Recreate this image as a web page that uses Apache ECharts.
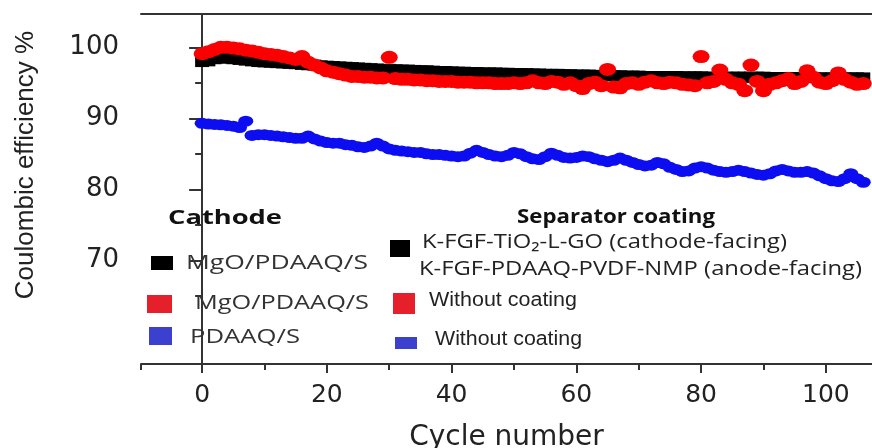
<!DOCTYPE html>
<html><head><meta charset="utf-8">
<script src="https://cdn.jsdelivr.net/npm/echarts@6/dist/echarts.min.js"></script>
<style>html,body{margin:0;padding:0;background:#fff}#c{width:872px;height:448px}</style>
</head><body><div id="c"></div>
<script>
// ---------------- data ----------------
const blackValues = [
 98.0,98.1,98.4,98.5,98.5,98.4,98.3,98.2,98.1,98.0,
 97.95,97.9,97.85,97.8,97.75,97.7,97.6,97.55,97.5,97.4,
 97.35,97.3,97.25,97.2,97.15,97.1,97.05,97.0,96.95,96.9,
 96.9,96.85,96.8,96.8,96.75,96.7,96.7,96.65,96.6,96.6,
 96.55,96.5,96.5,96.45,96.45,96.4,96.4,96.4,96.35,96.35,
 96.3,96.3,96.3,96.25,96.25,96.2,96.2,96.2,96.15,96.15,
 96.1,96.1,96.1,96.05,96.05,96.0,96.0,96.0,95.95,95.95,
 95.95,95.9,95.9,95.9,95.9,95.9,95.9,95.85,95.85,95.85,
 95.85,95.8,95.8,95.8,95.8,95.8,95.8,95.8,95.8,95.8,
 95.8,95.75,95.75,95.75,95.75,95.75,95.75,95.75,95.75,95.7,
 95.7,95.7,95.7,95.7,95.7,95.7,95.7];
const redValues = [
 99.1,99.4,99.7,100.0,100.0,99.9,99.8,99.6,99.5,99.3,
 99.1,99.0,98.9,98.7,98.5,98.3,98.7,97.9,97.5,97.1,
 96.7,96.5,96.3,96.1,95.9,95.9,95.8,95.8,95.7,95.7,
 98.6,95.6,95.5,95.5,95.4,95.4,95.3,95.3,95.2,95.2,
 95.2,95.1,95.1,95.1,95.0,95.0,95.0,94.9,94.9,94.9,
 95.0,94.9,95.0,95.3,95.0,94.9,95.2,95.1,94.8,95.0,
 94.6,94.2,94.9,95.1,94.6,96.9,94.4,94.3,94.9,95.0,
 94.8,95.1,95.3,95.0,94.9,95.1,95.0,94.8,94.7,94.6,
 98.7,95.0,95.2,96.8,95.5,95.0,94.8,93.9,97.5,95.2,
 93.9,94.8,95.0,95.3,95.6,94.9,95.2,96.7,95.8,95.1,
 94.9,95.3,96.4,95.5,95.1,94.8,94.9];
const blueValues = [
 89.3,89.2,89.15,89.1,89.0,88.9,88.7,89.6,87.6,87.7,
 87.7,87.6,87.5,87.4,87.3,87.2,87.2,87.5,87.1,86.8,
 86.6,86.5,86.5,86.3,86.2,86.0,85.9,86.1,86.5,86.1,
 85.7,85.5,85.4,85.3,85.2,85.2,85.0,84.9,84.9,84.8,
 84.7,84.6,84.7,85.1,85.5,85.2,84.9,84.7,84.6,84.8,
 85.2,85.0,84.6,84.3,84.2,84.6,85.1,84.8,84.5,84.4,
 84.5,84.7,84.6,84.3,84.1,83.9,84.1,84.4,84.1,83.8,
 83.5,83.3,83.4,83.8,83.6,83.1,82.8,82.5,82.6,83.0,
 83.2,83.0,82.7,82.5,82.4,82.5,82.7,82.5,82.3,82.1,
 82.0,82.2,82.6,82.8,82.6,82.4,82.4,82.5,82.3,81.9,
 81.5,81.2,81.1,81.5,82.2,81.5,81.0];
const xMajorTicks = [0, 20, 40, 60, 80, 100];
const xMinorTicks = [10, 30, 50, 70, 90];
const yMajorTicks = [70, 80, 90, 100];
const yMinorTicks = [65, 75, 85, 95];
const cathodeTitle = 'Cathode';
const cathodeLabels = ['MgO/PDAAQ/S', 'MgO/PDAAQ/S', 'PDAAQ/S'];
const separatorTitle = 'Separator coating';
const separatorLabels = ['K-FGF-TiO\u2082-L-GO (cathode-facing)', 'K-FGF-PDAAQ-PVDF-NMP (anode-facing)', 'Without coating', 'Without coating'];
const seriesNames = ['MgO/PDAAQ/S + K-FGF coatings', 'MgO/PDAAQ/S without coating', 'PDAAQ/S without coating'];
const xName = 'Cycle number';
const yName = 'Coulombic efficiency %';

// ---------------- layout / style ----------------
const X_MIN = -9.8, X_MAX = 107.4, Y_MIN = 55.4, Y_MAX = 104.7;
const AXIS_COLOR = '#333';
const colors = ['#000000', '#fa0000', '#0d0df2'];
const legendColors = ['#000000', '#e5202a', '#3b40cf'];
const calibri = '"Open Sans", "Noto Sans", "DejaVu Sans", sans-serif';
const arial = '"Liberation Sans", Arial, sans-serif';

const mctx = document.createElement('canvas').getContext('2d');
function fitText(text, left, cy, width, size, family, weight, color) {
  const font = weight + ' ' + size + 'px ' + family;
  mctx.font = font;
  const w = mctx.measureText(text).width || 1;
  return { type: 'text', x: left, y: cy, scaleX: width / w, silent: true, z: 100,
    style: { text: text, font: font, fill: color, textAlign: 'left', textVerticalAlign: 'middle', align: 'left', verticalAlign: 'middle' } };
}
function box(x, y, w, h, color) {
  return { type: 'rect', silent: true, z: 100, shape: { x: x, y: y, width: w, height: h }, style: { fill: color } };
}

const graphics = [
  fitText(cathodeTitle, 168, 219, 114, 19, calibri, 'bold', '#111'),
  box(151, 256, 22, 14, legendColors[0]),
  fitText(cathodeLabels[0], 186, 263, 182, 20, calibri, 'normal', '#333'),
  box(147, 295, 25, 18, legendColors[1]),
  fitText(cathodeLabels[1], 195, 303, 174, 20, calibri, 'normal', '#333'),
  box(149, 327, 23, 18, legendColors[2]),
  fitText(cathodeLabels[2], 190, 337, 110, 20, calibri, 'normal', '#333'),
  fitText(separatorTitle, 517, 218, 198, 19, calibri, 'bold', '#111'),
  box(390, 240, 20, 17, legendColors[0]),
  fitText(separatorLabels[0], 422, 242, 365, 20, calibri, 'normal', '#222'),
  fitText(separatorLabels[1], 419, 269, 443, 20, calibri, 'normal', '#222'),
  box(393, 293, 22, 21, legendColors[1]),
  fitText(separatorLabels[2], 429, 300, 148, 20, arial, 'normal', '#222'),
  box(395, 337, 22, 12, legendColors[2]),
  fitText(separatorLabels[3], 435, 339, 147, 20, arial, 'normal', '#222')
];

const axisLine = { show: true, lineStyle: { color: AXIS_COLOR, width: 2 } };
const chart = echarts.init(document.getElementById('c'), null, { renderer: 'canvas' });
chart.setOption({
  animation: false,
  backgroundColor: '#fff',
  grid: { left: 141, right: 0, top: 14, bottom: 84, containLabel: false, outerBoundsMode: 'none' },
  xAxis: [
    { type: 'value', min: X_MIN, max: X_MAX, position: 'bottom',
      axisLine: axisLine,
      axisTick: { show: true, customValues: xMajorTicks, length: 9, lineStyle: { color: AXIS_COLOR, width: 2 } },
      axisLabel: { customValues: xMajorTicks, margin: 19, fontSize: 25, fontFamily: 'DejaVu Sans', color: '#222' },
      splitLine: { show: false },
      name: xName, nameLocation: 'middle', nameGap: 60,
      nameTextStyle: { fontSize: 28, fontFamily: 'DejaVu Sans', color: '#222' } },
    { type: 'value', min: X_MIN, max: X_MAX, position: 'bottom',
      axisLine: { show: false },
      axisTick: { show: true, customValues: [X_MIN].concat(xMinorTicks), length: 6, lineStyle: { color: AXIS_COLOR, width: 2 } },
      axisLabel: { show: false }, splitLine: { show: false } },
    { type: 'value', min: X_MIN, max: X_MAX, position: 'top',
      axisLine: axisLine, axisTick: { show: false }, axisLabel: { show: false }, splitLine: { show: false } }
  ],
  yAxis: [
    { type: 'value', min: Y_MIN, max: Y_MAX, position: 'left',
      axisLine: axisLine,
      axisTick: { show: true, customValues: yMajorTicks, length: 13, lineStyle: { color: AXIS_COLOR, width: 2 } },
      axisLabel: { customValues: yMajorTicks, margin: 22, fontSize: 26, fontFamily: 'DejaVu Sans', color: '#222' },
      splitLine: { show: false },
      name: yName, nameLocation: 'middle', nameGap: 102, nameRotate: 90,
      nameTextStyle: { fontSize: 26, fontFamily: arial, color: '#222', padding: [0, 0, 0, 48] } },
    { type: 'value', min: Y_MIN, max: Y_MAX, position: 'left',
      axisLine: { show: false },
      axisTick: { show: true, customValues: [Y_MIN].concat(yMinorTicks), length: 7, lineStyle: { color: AXIS_COLOR, width: 2 } },
      axisLabel: { show: false }, splitLine: { show: false } }
  ],
  series: [
    { type: 'scatter', name: seriesNames[0], xAxisIndex: 0, yAxisIndex: 0, silent: true,
      symbol: 'rect', symbolSize: [14, 11], itemStyle: { color: colors[0], opacity: 1 },
      data: blackValues.map(function (v, i) { return [i, v]; }) },
    { type: 'scatter', name: seriesNames[1], xAxisIndex: 0, yAxisIndex: 0, silent: true,
      symbol: 'circle', symbolSize: [17, 13], itemStyle: { color: colors[1], opacity: 1 },
      data: redValues.map(function (v, i) { return [i, v]; }) },
    { type: 'scatter', name: seriesNames[2], xAxisIndex: 0, yAxisIndex: 0, silent: true,
      symbol: 'circle', symbolSize: [15, 11], itemStyle: { color: colors[2], opacity: 1 },
      data: blueValues.map(function (v, i) { return [i, v]; }) }
  ],
  graphic: graphics
});
</script>
</body></html>
